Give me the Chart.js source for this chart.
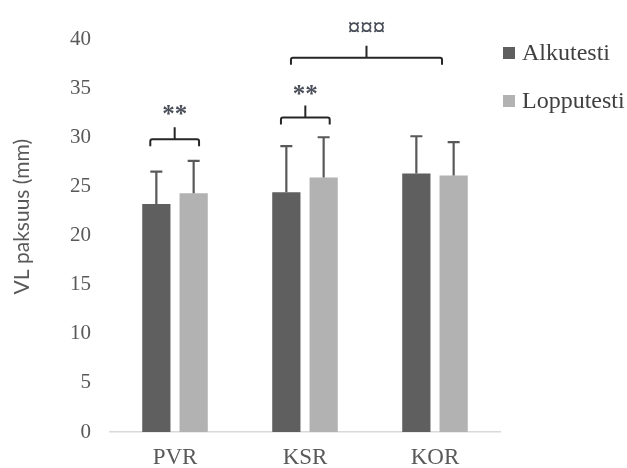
<!DOCTYPE html>
<html>
<head>
<meta charset="utf-8">
<script src="https://cdn.jsdelivr.net/npm/chart.js@4.4.1/dist/chart.umd.min.js"></script>
<style>
html,body{margin:0;padding:0;background:#ffffff;}
</style>
</head>
<body>
<canvas id="kaavio" width="627" height="468"></canvas>
<script>

// ryhmät ja arvot (mm)
const ryhmat = ["PVR", "KSR", "KOR"];

const alkutesti = [23.2, 24.4, 26.3];
const alkutestiSD = [3.3, 4.7, 3.8];

const lopputesti = [24.3, 25.9, 26.1];
const lopputestiSD = [3.3, 4.1, 3.4];

const yMax = 40;
const yAskel = 5;

// merkitsevyyssulkeet: alku/loppu kategoria-akselin yksiköissä, taso y-akselilla
const sulkeet = [
    { alku: -0.19, loppu: 0.185, taso: 29.8, teksti: "**", tekstiTaso: 32.2 },
    { alku: 0.815, loppu: 1.19, taso: 32.0, teksti: "**", tekstiTaso: 34.2 },
    { alku: 0.892, loppu: 2.054, taso: 38.1, teksti: "¤¤¤", tekstiTaso: 41.0 }
];

const hajonnat = [alkutestiSD, lopputestiSD];

const virhepalkit = {
    id: "virhepalkit",
    afterDatasetsDraw(chart){
        const ctx = chart.ctx;
        const y = chart.scales.y;
        ctx.save();
        ctx.strokeStyle = "#595959";
        ctx.lineWidth = 2.2;
        chart.data.datasets.forEach((ds, i) => {
            const meta = chart.getDatasetMeta(i);
            meta.data.forEach((bar, j) => {
                const yla = y.getPixelForValue(ds.data[j] + hajonnat[i][j]);
                ctx.beginPath();
                ctx.moveTo(bar.x, bar.y);
                ctx.lineTo(bar.x, yla);
                ctx.moveTo(bar.x - 6, yla);
                ctx.lineTo(bar.x + 6, yla);
                ctx.stroke();
            });
        });
        ctx.restore();
    }
};

const sulkeetPlugin = {
    id: "sulkeet",
    afterDraw(chart){
        const ctx = chart.ctx;
        const x = chart.scales.x;
        const y = chart.scales.y;
        ctx.save();
        ctx.strokeStyle = "#262626";
        ctx.lineWidth = 2;
        sulkeet.forEach(s => {
            const x1 = x.getPixelForValue(s.alku);
            const x2 = x.getPixelForValue(s.loppu);
            const yy = y.getPixelForValue(s.taso);
            const xm = (x1 + x2) / 2;
            ctx.beginPath();
            ctx.moveTo(x1, yy + 7);
            ctx.lineTo(x1, yy + 2);
            ctx.quadraticCurveTo(x1, yy, x1 + 2, yy);
            ctx.lineTo(x2 - 2, yy);
            ctx.quadraticCurveTo(x2, yy, x2, yy + 2);
            ctx.lineTo(x2, yy + 7);
            ctx.moveTo(xm, yy);
            ctx.lineTo(xm, yy - 12);
            ctx.stroke();

            ctx.fillStyle = "#4a4f5a";
            ctx.font = "bold 25px 'Liberation Serif'";
            ctx.textAlign = "center";
            ctx.textBaseline = "middle";
            ctx.fillText(s.teksti, xm, y.getPixelForValue(s.tekstiTaso));
        });
        ctx.restore();
    }
};

const selite = {
    id: "selite",
    afterDraw(chart){
        const ctx = chart.ctx;
        const area = chart.chartArea;
        ctx.save();
        ctx.font = "24px 'Liberation Serif'";
        ctx.textBaseline = "middle";
        ctx.textAlign = "left";
        chart.data.datasets.forEach((ds, i) => {
            const yy = 53 + i * 48;
            ctx.fillStyle = ds.backgroundColor;
            ctx.fillRect(area.right + 3, yy - 6, 12, 12);
            ctx.fillStyle = "#404040";
            ctx.fillText(ds.label, area.right + 22, yy + 1);
        });
        ctx.restore();
    }
};

new Chart(
    document.getElementById("kaavio"),
    {
        type: "bar",
        data: {
            labels: ryhmat,
            datasets: [
                {
                    label: "Alkutesti",
                    data: alkutesti,
                    backgroundColor: "#5f5f5f",
                    categoryPercentage: 0.574,
                    barPercentage: 0.757
                },
                {
                    label: "Lopputesti",
                    data: lopputesti,
                    backgroundColor: "#b2b2b2",
                    categoryPercentage: 0.574,
                    barPercentage: 0.757
                }
            ]
        },
        options: {
            responsive: false,
            animation: false,
            devicePixelRatio: 1,
            layout: {
                padding: { top: 39, right: 127, left: 0, bottom: 0 }
            },
            plugins: {
                legend: { display: false },
                tooltip: { enabled: false }
            },
            scales: {
                x: {
                    grid: { display: false, drawTicks: false },
                    border: { color: "#d9d9d9", width: 1.5 },
                    ticks: {
                        color: "#595959",
                        font: { family: "'Liberation Serif'", size: 23 },
                        padding: 12
                    },
                    afterFit(scale){ scale.height = 36; }
                },
                y: {
                    min: 0,
                    max: yMax,
                    grid: { display: false, drawTicks: false },
                    border: { display: false },
                    ticks: {
                        stepSize: yAskel,
                        color: "#595959",
                        font: { family: "'Liberation Serif'", size: 21 },
                        padding: 19
                    },
                    title: {
                        display: true,
                        text: "       VL paksuus (mm)",
                        color: "#595959",
                        font: { family: "Lato", size: 21 },
                        padding: { top: 10, bottom: 0 }
                    },
                    afterFit(scale){ scale.width = 110; }
                }
            }
        },
        plugins: [virhepalkit, sulkeetPlugin, selite]
    }
);

</script>
</body>
</html>
